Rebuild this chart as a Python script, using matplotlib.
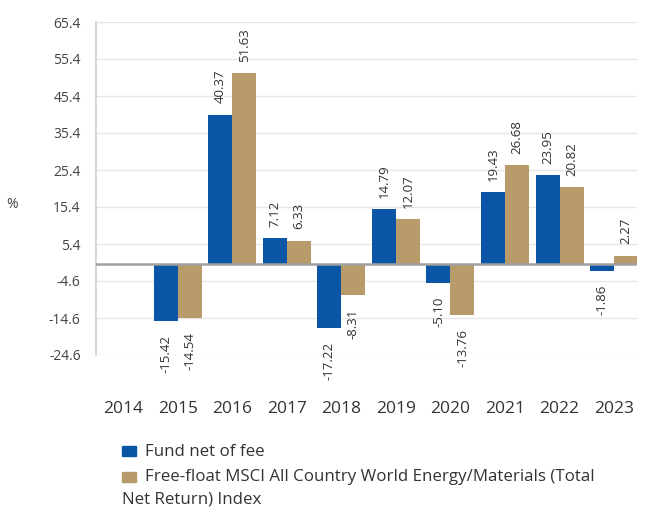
import numpy as np
import matplotlib.pyplot as plt
from matplotlib.patches import Rectangle

plt.rcParams['font.family'] = ['Open Sans', 'DejaVu Sans']

anni = ['2014', '2015', '2016', '2017', '2018', '2019', '2020', '2021', '2022', '2023']
fondo = [np.nan, -15.42, 40.37, 7.12, -17.22, 14.79, -5.10, 19.43, 23.95, -1.86]
indice = [np.nan, -14.54, 51.63, 6.33, -8.31, 12.07, -13.76, 26.68, 20.82, 2.27]
yticks = [65.4, 55.4, 45.4, 35.4, 25.4, 15.4, 5.4, -4.6, -14.6, -24.6]

col_fondo = '#0b55a6'
col_indice = '#b99b6b'
col_testo = '#333333'

fig = plt.figure(figsize=(6.5, 5.09), dpi=100)
ax = fig.add_axes([96/650, 1-355/509, (637-96)/650, (355-22)/509])

x = np.arange(len(anni))
w = 0.44
b1 = ax.bar(x - w/2, fondo, w, color=col_fondo, zorder=3)
b2 = ax.bar(x + w/2, indice, w, color=col_indice, zorder=3)

for barre, valori in [(b1, fondo), (b2, indice)]:
    for b, v in zip(barre, valori):
        if np.isnan(v):
            continue
        ax.annotate(f'{v:.2f}', (b.get_x() + b.get_width()/2, v),
                    xytext=(0, 8 if v > 0 else -10), textcoords='offset points',
                    rotation=90, ha='center', va='bottom' if v > 0 else 'top',
                    fontsize=9.5, color=col_testo)

ax.axhline(0, color='#a0a0a0', lw=1.8, zorder=4)
ax.set_ylim(-24.6, 65.4)
ax.set_xlim(-0.5, 9.42)
ax.set_yticks(yticks)
ax.set_yticklabels([f'{t:.1f}' for t in yticks])
ax.set_xticks(x)
ax.set_xticklabels(anni)
ax.grid(axis='y', color='#e6e6e6', lw=1, zorder=0)
ax.tick_params(axis='y', length=0, pad=11, labelsize=10, labelcolor='#444444')
ax.tick_params(axis='x', length=0, pad=33, labelsize=12.5, labelcolor=col_testo)
for s in ['top', 'right', 'bottom']:
    ax.spines[s].set_visible(False)
ax.spines['left'].set_color('#d0d0d0')
ax.spines['left'].set_linewidth(1.2)

fig.text(12/650, 1-205/509, '%', ha='center', va='center', fontsize=10, color='#444444')

# legenda fatta a mano per avere il testo che va a capo sotto il quadratino
fig.patches.append(Rectangle((122/650, 1-456/509), 14/650, 10/509,
                             transform=fig.transFigure, color=col_fondo))
fig.patches.append(Rectangle((122/650, 1-482/509), 14/650, 10/509,
                             transform=fig.transFigure, color=col_indice))
fig.text(145/650, 1-452/509, 'Fund net of fee', va='center', fontsize=12.2, color=col_testo)
fig.text(145/650, 1-477/509, 'Free-float MSCI All Country World Energy/Materials (Total',
         va='center', fontsize=12.2, color=col_testo)
fig.text(122/650, 1-499/509, 'Net Return) Index', va='center', fontsize=12.2, color=col_testo)

fig.savefig('out.png', dpi=100)
